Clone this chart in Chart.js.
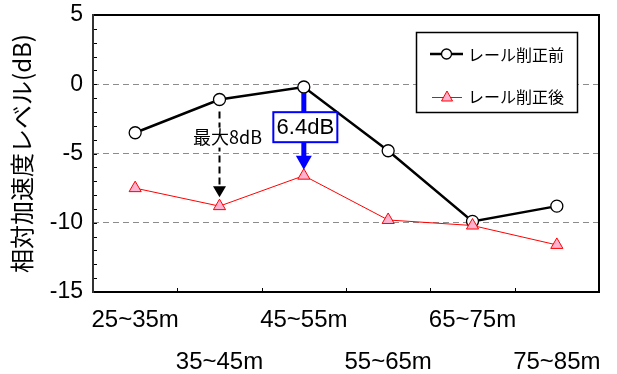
<!DOCTYPE html>
<html>
<head>
<meta charset="utf-8">
<script src="https://cdn.jsdelivr.net/npm/chart.js@4.4.0/dist/chart.umd.min.js"></script>
<style>
  html, body { margin: 0; padding: 0; background: #fff; }
  #wrap { width: 617px; height: 374px; }
</style>
</head>
<body>
<div id="wrap"><canvas id="c" width="617" height="374"></canvas></div>
<script>
// Measurement sections along the track
const categories = ['25~35m', '35~45m', '45~55m', '55~65m', '65~75m', '75~85m'];
// Relative acceleration level (dB) before and after rail grinding
const beforeGrinding = [-3.5, -1.1, -0.2, -4.8, -9.9, -8.8];
const afterGrinding  = [-7.5, -8.8, -6.6, -9.8, -10.2, -11.6];
const seriesNames = ['レール削正前', 'レール削正後'];
const yTitle = '相対加速度レベル(dB)';
const yMin = -15, yMax = 5, yLabelStep = 5;
// Sections that carry a reduction annotation
const maxDropIndex = 1;
const boxedDropIndex = 2;

const JP = '"Noto Sans CJK JP", "Noto Sans", sans-serif';
const LAT = '"Liberation Sans", Arial, sans-serif';

function drawArrowHead(ctx, x, tipY, halfW, h, color) {
  ctx.beginPath();
  ctx.moveTo(x, tipY);
  ctx.lineTo(x - halfW, tipY - h);
  ctx.lineTo(x + halfW, tipY - h);
  ctx.closePath();
  ctx.fillStyle = color;
  ctx.fill();
}

// Plot frame plus inward tick marks
const framePlugin = {
  id: 'frame',
  beforeDatasetsDraw(chart) {
    const { ctx, chartArea: a, scales: { x, y } } = chart;
    ctx.save();
    ctx.strokeStyle = '#000';
    ctx.lineWidth = 1;
    for (let v = yMin; v <= yMax; v++) {
      const py = Math.round(y.getPixelForValue(v)) + 0.5;
      ctx.beginPath(); ctx.moveTo(a.left, py); ctx.lineTo(a.left + 4, py); ctx.stroke();
    }
    for (let i = 1; i < categories.length; i++) {
      const px = Math.round((x.getPixelForValue(i - 1) + x.getPixelForValue(i)) / 2) + 0.5;
      ctx.beginPath(); ctx.moveTo(px, a.bottom); ctx.lineTo(px, a.bottom - 4); ctx.stroke();
    }
    ctx.lineWidth = 2;
    ctx.strokeStyle = '#000';
    ctx.beginPath();
    ctx.moveTo(a.left, a.top); ctx.lineTo(a.right, a.top); ctx.lineTo(a.right, a.bottom);
    ctx.lineTo(a.left, a.bottom);
    ctx.stroke();
    ctx.strokeStyle = '#333';
    ctx.beginPath(); ctx.moveTo(a.left, a.top - 1); ctx.lineTo(a.left, a.bottom + 1); ctx.stroke();
    ctx.restore();
  }
};

// Reduction arrows, their labels and the legend box
const notesPlugin = {
  id: 'notes',
  afterDatasetsDraw(chart) {
    const { ctx, scales: { x, y } } = chart;
    ctx.save();

    // largest reduction: dashed black arrow
    const drops = beforeGrinding.map((b, i) => b - afterGrinding[i]);
    const maxDrop = Math.max(...drops);
    const x1 = x.getPixelForValue(maxDropIndex);
    const top1 = y.getPixelForValue(beforeGrinding[maxDropIndex]) + 12;
    const tip1 = y.getPixelForValue(afterGrinding[maxDropIndex]) - 9;
    ctx.strokeStyle = '#000';
    ctx.lineWidth = 2;
    ctx.setLineDash([7, 4]);
    ctx.beginPath(); ctx.moveTo(x1, top1); ctx.lineTo(x1, tip1 - 10); ctx.stroke();
    ctx.setLineDash([]);
    drawArrowHead(ctx, x1, tip1, 6.5, 11, '#000');

    const t1 = '最大' + Math.round(maxDrop) + 'dB';
    ctx.font = '18px ' + JP;
    ctx.textBaseline = 'middle';
    ctx.textAlign = 'center';
    const w1 = ctx.measureText(t1).width;
    const cx1 = x1 + 8, cy1 = y.getPixelForValue(-3.85);
    ctx.fillStyle = '#fff';
    ctx.fillRect(cx1 - w1 / 2 - 1, cy1 - 10, w1 + 2, 20);
    ctx.fillStyle = '#000';
    ctx.fillText(t1, cx1, cy1);

    // reduction at the peak section: solid blue arrow with boxed value
    const x2 = x.getPixelForValue(boxedDropIndex);
    const top2 = y.getPixelForValue(beforeGrinding[boxedDropIndex]) + 6;
    const tip2 = y.getPixelForValue(afterGrinding[boxedDropIndex]) - 6;
    ctx.strokeStyle = '#0000ff';
    ctx.lineWidth = 5;
    ctx.beginPath(); ctx.moveTo(x2, top2); ctx.lineTo(x2, tip2 - 12); ctx.stroke();
    drawArrowHead(ctx, x2, tip2, 8, 14, '#0000ff');

    const t2 = drops[boxedDropIndex].toFixed(1) + 'dB';
    const bx = x2 + 1.5, by = y.getPixelForValue(-3.1);
    ctx.fillStyle = '#fff';
    ctx.fillRect(bx - 32, by - 15, 64, 30);
    ctx.lineWidth = 2;
    ctx.strokeStyle = '#0000ff';
    ctx.strokeRect(bx - 32, by - 15, 64, 30);
    ctx.font = '22px ' + LAT;
    ctx.fillStyle = '#000';
    ctx.fillText(t2, bx, by + 1);

    // legend
    ctx.fillStyle = '#fff';
    ctx.fillRect(416, 32, 162, 81);
    ctx.lineWidth = 1.5;
    ctx.strokeStyle = '#000';
    ctx.strokeRect(416.5, 32.5, 161, 80);

    ctx.lineWidth = 2.5;
    ctx.beginPath(); ctx.moveTo(430, 54); ctx.lineTo(463, 54); ctx.stroke();
    ctx.beginPath(); ctx.arc(446.5, 54, 5, 0, Math.PI * 2);
    ctx.fillStyle = '#fff'; ctx.fill();
    ctx.lineWidth = 1.3; ctx.stroke();

    ctx.strokeStyle = '#ff0000';
    ctx.lineWidth = 1;
    ctx.beginPath(); ctx.moveTo(432, 97.5); ctx.lineTo(462, 97.5); ctx.stroke();
    ctx.beginPath();
    ctx.moveTo(447, 91); ctx.lineTo(441.5, 101); ctx.lineTo(452.5, 101); ctx.closePath();
    ctx.fillStyle = '#ffb3d1'; ctx.fill(); ctx.stroke();

    ctx.font = '16px ' + JP;
    ctx.textAlign = 'left';
    ctx.fillStyle = '#000';
    ctx.fillText(seriesNames[0], 468, 55);
    ctx.fillText(seriesNames[1], 468, 97);

    ctx.restore();
  }
};

new Chart(document.getElementById('c'), {
  type: 'line',
  data: {
    labels: categories,
    datasets: [
      {
        label: seriesNames[0],
        data: beforeGrinding,
        order: 1,
        borderColor: '#000',
        borderWidth: 2.5,
        tension: 0,
        pointStyle: 'circle',
        pointRadius: 6,
        pointBackgroundColor: '#fff',
        pointBorderColor: '#000',
        pointBorderWidth: 1.3
      },
      {
        label: seriesNames[1],
        data: afterGrinding,
        order: 0,
        borderColor: '#ff0000',
        borderWidth: 1,
        tension: 0,
        pointStyle: 'triangle',
        pointRadius: 7,
        pointBackgroundColor: '#ffb3d1',
        pointBorderColor: '#ff0000',
        pointBorderWidth: 1
      }
    ]
  },
  options: {
    responsive: false,
    animation: false,
    devicePixelRatio: 1,
    layout: { padding: { top: 15, right: 18, left: 0, bottom: 0 } },
    plugins: { legend: { display: false }, tooltip: { enabled: false } },
    scales: {
      x: {
        type: 'category',
        offset: true,
        grid: { display: false, drawTicks: false },
        border: { display: false },
        afterFit(s) { s.height = 82; s.paddingLeft = 0; s.paddingRight = 0; },
        ticks: {
          autoSkip: false,
          maxRotation: 0,
          padding: 7,
          color: '#000',
          font: { family: LAT, size: 24, lineHeight: 42 / 24 },
          callback: (v, i) => (i % 2 === 0 ? [categories[i], ''] : ['', categories[i]])
        }
      },
      y: {
        min: yMin,
        max: yMax,
        afterFit(s) { s.width = 93; s.paddingTop = 0; s.paddingBottom = 0; },
        border: { display: false, dash: [6, 4] },
        grid: {
          drawTicks: false,
          lineWidth: 1,
          color: (c) => {
            const v = c.tick && c.tick.value;
            return (v % yLabelStep === 0 && v > yMin && v < yMax) ? '#8c8c8c' : 'rgba(0,0,0,0)';
          }
        },
        ticks: {
          stepSize: 1,
          autoSkip: false,
          padding: 10,
          color: '#000',
          font: { family: LAT, size: 23 },
          callback: (v) => (v % yLabelStep === 0 ? String(v) : '')
        },
        title: {
          display: true,
          text: yTitle,
          color: '#000',
          padding: { top: 7, bottom: 0 },
          font: { family: JP, size: 24 }
        }
      }
    }
  },
  plugins: [framePlugin, notesPlugin]
});
</script>
</body>
</html>
